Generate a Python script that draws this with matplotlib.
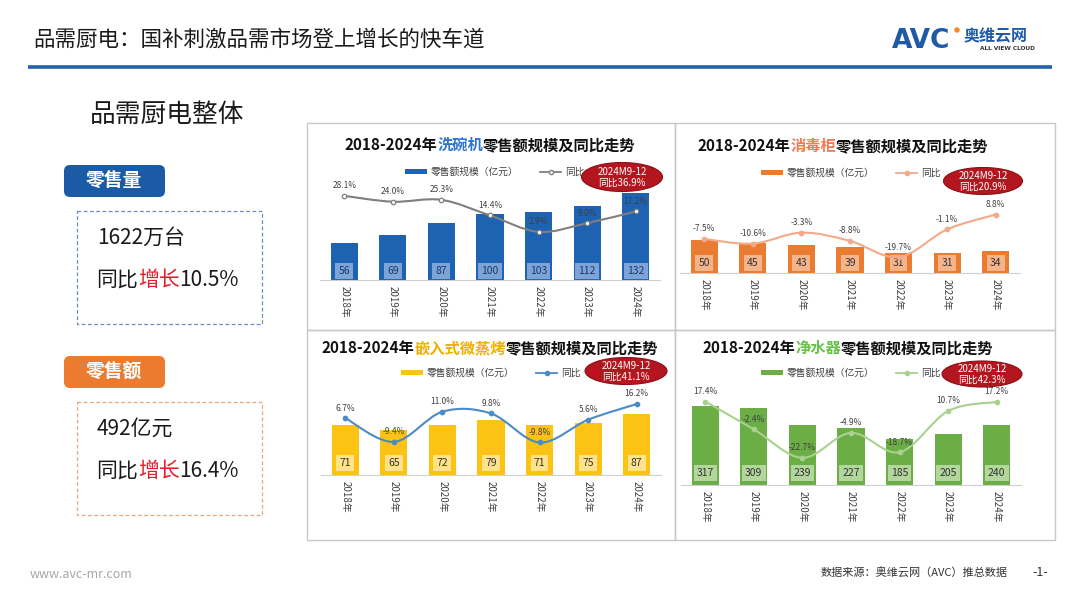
import matplotlib
matplotlib.use("Agg")
import matplotlib.pyplot as plt
import numpy as np
from matplotlib.patches import Rectangle, FancyBboxPatch, Ellipse, Patch, PathPatch
from matplotlib.lines import Line2D
from matplotlib.path import Path
from matplotlib.offsetbox import TextArea, HPacker, AnnotationBbox

plt.rcParams['font.family'] = ['Noto Sans CJK SC', 'DejaVu Sans']

W, H = 1080, 608

years = ['2018年', '2019年', '2020年', '2021年', '2022年', '2023年', '2024年']

# 零售额（亿元）与同比（%）
dish_sales = [56, 69, 87, 100, 103, 112, 132]
dish_yoy = [28.1, 24.0, 25.3, 14.4, 2.9, 9.0, 17.2]
steril_sales = [50, 45, 43, 39, 31, 31, 34]
steril_yoy = [-7.5, -10.6, -3.3, -8.8, -19.7, -1.1, 8.8]
steam_sales = [71, 65, 72, 79, 71, 75, 87]
steam_yoy = [6.7, -9.4, 11.0, 9.8, -9.8, 5.6, 16.2]
water_sales = [317, 309, 239, 227, 185, 205, 240]
water_yoy = [17.4, -2.4, -22.7, -4.9, -18.7, 10.7, 17.2]

q4_notes = ['2024M9-12\n同比36.9%', '2024M9-12\n同比20.9%',
            '2024M9-12\n同比41.1%', '2024M9-12\n同比42.3%']

fig = plt.figure(figsize=(W / 100, H / 100), dpi=100)
fig.patch.set_facecolor('white')

bg = fig.add_axes([0, 0, 1, 1], zorder=0)
bg.set_xlim(0, W)
bg.set_ylim(H, 0)
bg.axis('off')

fg = fig.add_axes([0, 0, 1, 1], zorder=6)
fg.set_xlim(0, W)
fg.set_ylim(H, 0)
fg.axis('off')
fg.patch.set_alpha(0)


def rich(ax, x, y, parts, size, weight='normal', align=(0.5, 0.5)):
    areas = [TextArea(t, textprops=dict(color=c, fontsize=size, fontweight=weight))
             for t, c in parts]
    box = HPacker(children=areas, align='baseline', pad=0, sep=0)
    ab = AnnotationBbox(box, (x, y), xycoords='data', frameon=False,
                        box_alignment=align, pad=0)
    ax.add_artist(ab)


def smooth_path(xs, ys):
    pts = np.column_stack([xs, ys]).astype(float)
    n = len(pts)
    verts = [pts[0]]
    codes = [Path.MOVETO]
    for i in range(n - 1):
        p0 = pts[i - 1] if i > 0 else pts[i]
        p1, p2 = pts[i], pts[i + 1]
        p3 = pts[i + 2] if i + 2 < n else p2
        verts += [p1 + (p2 - p0) / 6, p2 - (p3 - p1) / 6, p2]
        codes += [Path.CURVE4] * 3
    return Path(verts, codes)


# header
bg.text(33, 40, '品需厨电：国补刺激品需市场登上增长的快车道', fontsize=15.5,
        color='#1a1a1a', ha='left', va='center')
bg.plot([28, 1052], [67, 67], color='#2563A8', lw=2.6, solid_capstyle='butt')
bg.text(892, 41, 'AVC', fontsize=19, fontweight='bold', color='#1F5AA6',
        ha='left', va='center', family='DejaVu Sans')
bg.add_patch(Ellipse((957, 30), 4, 4, color='#F08A24'))
bg.text(964, 36, '奥维云网', fontsize=11.5, fontweight='bold', color='#1F5AA6',
        ha='left', va='center')
bg.text(980, 49, 'ALL VIEW CLOUD', fontsize=4.2, fontweight='bold', color='#333333',
        ha='left', va='center', family='DejaVu Sans')

bg.text(90, 115, '品需厨电整体', fontsize=18.5, color='#1a1a1a', ha='left', va='center')

# left summary cards
cards = [
    ('零售量', '#1B5BA6', '#6A8CC0', 163, '1622万台', '10.5%'),
    ('零售额', '#EC7B30', '#E9A77A', 354, '492亿元', '16.4%'),
]
for label, col, dash, top, line1, pct in cards:
    bg.add_patch(FancyBboxPatch((64, top + 2), 101, 32,
                                boxstyle='round,pad=0,rounding_size=6',
                                facecolor=col, edgecolor='none'))
    bg.text(114, top + 18, label, fontsize=13.5, fontweight='bold', color='white',
            ha='center', va='center')
    bg.add_patch(Rectangle((77, top + 48), 185, 113, facecolor='none',
                           edgecolor=dash, lw=0.9, ls=(0, (3, 2))))
    bg.text(97, top + 75, line1, fontsize=15, color='#1a1a1a', ha='left', va='center')
    rich(bg, 96, top + 117, [('同比', '#1a1a1a'), ('增长', '#E0202A'), (pct, '#1a1a1a')],
         15, align=(0, 0.5))

# footer
bg.text(30, 575, 'www.avc-mr.com', fontsize=9, color='#A6A6A6', ha='left', va='center')
bg.text(1008, 573, '数据来源：奥维云网（AVC）推总数据', fontsize=8, color='#333333',
        ha='right', va='center')
bg.text(1040, 573, '-1-', fontsize=9, color='#333333', ha='center', va='center')

panels = [
    dict(name='洗碗机', name_col='#2E75D0', sales=dish_sales, yoy=dish_yoy, note=q4_notes[0],
         bar='#1E62B2', box='#7CA4D8', txt='#1F3864', line='#7F7F7F', mface='white',
         frame=(307, 123, 368, 207), ax=(320, 190, 340, 90), ylim=136.6, y2=(-30.8, 32.2),
         lab=0.10, title=(490, 145), leg=(495, 172), ell=(622, 177, 81, 29)),
    dict(name='消毒柜', name_col='#F27A55', sales=steril_sales, yoy=steril_yoy, note=q4_notes[1],
         bar='#E97C30', box='#F5B48A', txt='#333333', line='#F4A98A', mface='#F4A98A',
         frame=(675, 123, 380, 207), ax=(680, 200, 340, 73), ylim=110.6, y2=(-30.2, 18.5),
         lab=0.137, title=(843, 146), leg=(851, 173), ell=(983, 181, 79, 27)),
    dict(name='嵌入式微蒸烤', name_col='#F0B000', sales=steam_sales, yoy=steam_yoy, note=q4_notes[2],
         bar='#FCC314', box='#FFE38C', txt='#333333', line='#4A8BC8', mface='#4A8BC8',
         frame=(307, 330, 368, 210), ax=(321, 395, 340, 80), ylim=114.3, y2=(-31.8, 22.3),
         lab=0.15, title=(490, 348), leg=(491, 373), ell=(626, 371, 82, 27)),
    dict(name='净水器', name_col='#66C24A', sales=water_sales, yoy=water_yoy, note=q4_notes[3],
         bar='#6AAE45', box='#B3D69C', txt='#333333', line='#A9D18E', mface='#A9D18E',
         frame=(675, 330, 380, 210), ax=(681, 395, 340, 90), ylim=361, y2=(-42.1, 22.1),
         lab=0.133, title=(848, 348), leg=(851, 373), ell=(982, 374, 80, 26)),
]

x = np.arange(len(years))
for p in panels:
    fx, fy, fw, fh = p['frame']
    bg.add_patch(Rectangle((fx, fy), fw, fh, facecolor='none', edgecolor='#C8C8C8', lw=1.0))

    axx, axy, axw, axh = p['ax']
    ax = fig.add_axes([axx / W, 1 - (axy + axh) / H, axw / W, axh / H], zorder=2)
    ax.patch.set_alpha(0)
    ax.bar(x, p['sales'], width=0.56, color=p['bar'], zorder=2)
    ax.set_xlim(-0.5, len(years) - 0.5)
    ax.set_ylim(0, p['ylim'])
    for s in ['top', 'right', 'left']:
        ax.spines[s].set_visible(False)
    ax.spines['bottom'].set_color('#D0D0D0')
    ax.set_yticks([])
    ax.set_xticks(x)
    ax.set_xticklabels(years, rotation=-90, fontsize=7, color='#404040')
    ax.tick_params(axis='x', length=0, pad=4)
    for i, v in enumerate(p['sales']):
        ax.text(i, p['lab'], str(v), transform=ax.get_xaxis_transform(), fontsize=7.5,
                color=p['txt'], ha='center', va='center', zorder=4,
                bbox=dict(boxstyle='square,pad=0.3', facecolor=p['box'], edgecolor='none'))

    ax2 = ax.twinx()
    ax2.set_ylim(*p['y2'])
    ax2.axis('off')
    ax2.add_patch(PathPatch(smooth_path(x, p['yoy']), fill=False, edgecolor=p['line'],
                            lw=1.5, zorder=3))
    ax2.plot(x, p['yoy'], 'o', ms=3.2, mfc=p['mface'], mec=p['line'], mew=0.9, zorder=4)
    for i, v in enumerate(p['yoy']):
        ax2.annotate(f'{v:.1f}%', (i, v), xytext=(0, 4), textcoords='offset points',
                     fontsize=6, color='#404040', ha='center', va='bottom', zorder=5)

    rich(bg, p['title'][0], p['title'][1],
         [('2018-2024年', '#111111'), (p['name'], p['name_col']), ('零售额规模及同比走势', '#111111')],
         11, weight='bold')

    handles = [Patch(facecolor=p['bar'], edgecolor='none'),
               Line2D([0], [0], color=p['line'], lw=1.3, marker='o', ms=3,
                      mfc=p['mface'], mec=p['line'])]
    ax.legend(handles, ['零售额规模（亿元）', '同比'], loc='center',
              bbox_to_anchor=(p['leg'][0] / W, 1 - p['leg'][1] / H),
              bbox_transform=fig.transFigure, ncol=2, frameon=False, fontsize=7,
              handlelength=2.2, handleheight=0.45, handletextpad=0.4, columnspacing=2.2,
              labelcolor='#404040')

    ex, ey, ew, eh = p['ell']
    fg.add_patch(Ellipse((ex, ey), ew, eh, facecolor='#B3161E', edgecolor='#8E0F15', lw=0.8))
    fg.text(ex, ey, p['note'], fontsize=7, color='white', ha='center', va='center',
            linespacing=1.1)

fig.savefig('out.png', dpi=100, facecolor='white')
